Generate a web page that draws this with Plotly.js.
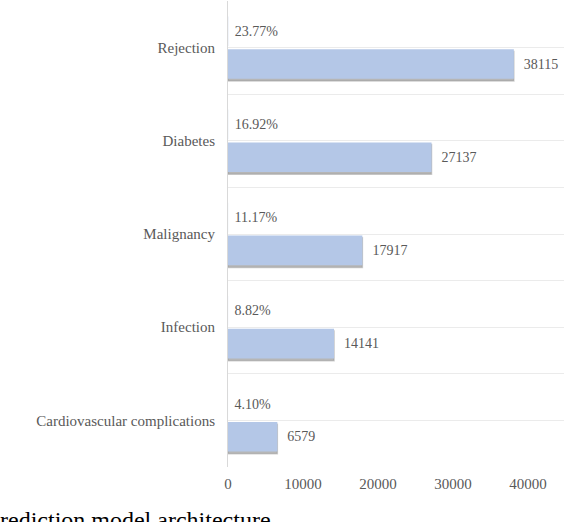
<!DOCTYPE html>
<html>
<head>
<meta charset="utf-8">
<script src="https://cdn.plot.ly/plotly-3.0.1.min.js"></script>
<style>
html,body{margin:0;padding:0;background:#fff;}
#chart{width:564px;height:522px;}
</style>
</head>
<body>
<div id="chart"></div>
<script>
// Data (top to bottom as shown)
var categories = ["Rejection", "Diabetes", "Malignancy", "Infection", "Cardiovascular complications"];
var percents = [23.77, 16.92, 11.17, 8.82, 4.10];
var counts = [38115, 27137, 17917, 14141, 6579];
var xTicks = [0, 10000, 20000, 30000, 40000];
var caption = "rediction model architecture";

var n = categories.length;
var pos = categories.map(function (c, i) { return n - 1 - i; });
var bounds = [];
for (var k = 0; k <= n; k++) bounds.push(k - 0.5);

var FONT = "Liberation Serif";
var GRAY = "#595959";
var BLUE = "#b4c7e7";
var barW = 0.318;

var shadow = {
  type: "bar", orientation: "h",
  x: counts, y: pos,
  offset: -0.335 - 0.024, width: barW,
  marker: { color: "rgba(110,110,110,0.5)", line: { color: "rgba(150,150,150,0.45)", width: 1.5 } },
  hoverinfo: "skip", showlegend: false, cliponaxis: true
};
var countTrace = {
  type: "bar", orientation: "h",
  x: counts, y: pos,
  offset: -0.335, width: barW,
  marker: { color: BLUE },
  text: counts.map(function (v) { return "\u00a0\u00a0" + v; }),
  textposition: "outside", constraintext: "none", cliponaxis: false,
  textfont: { family: FONT, size: 14, color: GRAY },
  showlegend: false
};
var pctTrace = {
  type: "bar", orientation: "h",
  x: percents, y: pos,
  offset: 0.017, width: barW,
  marker: { color: BLUE },
  text: percents.map(function (v) { return "\u00a0" + v.toFixed(2) + "%"; }),
  textposition: "outside", constraintext: "none", cliponaxis: false,
  textfont: { family: FONT, size: 14, color: GRAY },
  showlegend: false
};

var layout = {
  width: 564, height: 522,
  margin: { l: 228, r: 0, t: 1, b: 55, pad: 0 },
  paper_bgcolor: "#fff", plot_bgcolor: "#fff",
  barmode: "overlay",
  showlegend: false,
  font: { family: FONT, size: 15, color: GRAY },
  xaxis: {
    range: [0, 44800],
    tickmode: "array", tickvals: xTicks, ticktext: xTicks.map(String),
    showgrid: false, zeroline: false, showline: false,
    ticks: "outside", ticklen: 3, tickcolor: "rgba(0,0,0,0)",
    tickfont: { family: FONT, size: 15, color: GRAY },
    fixedrange: true
  },
  yaxis: {
    range: [-0.5, n - 0.5],
    tickmode: "array", tickvals: pos, ticktext: categories,
    showgrid: true, gridcolor: "#ebebeb", gridwidth: 1,
    minor: { tickmode: "array", tickvals: bounds, showgrid: true, gridcolor: "#ebebeb", gridwidth: 1, ticks: "" },
    zeroline: false,
    showline: true, linecolor: "#d9d9d9", linewidth: 1,
    ticks: "outside", ticklen: 9, tickcolor: "rgba(0,0,0,0)",
    tickfont: { family: FONT, size: 15, color: GRAY },
    fixedrange: true
  },
  annotations: [{
    text: caption, xref: "paper", yref: "paper",
    x: 0, y: 0, xanchor: "left", yanchor: "top",
    xshift: -230, yshift: -38, showarrow: false,
    font: { family: FONT, size: 24, color: "#000" }
  }]
};

Plotly.newPlot("chart", [shadow, countTrace, pctTrace], layout, { displayModeBar: false, staticPlot: true });
</script>
</body>
</html>
